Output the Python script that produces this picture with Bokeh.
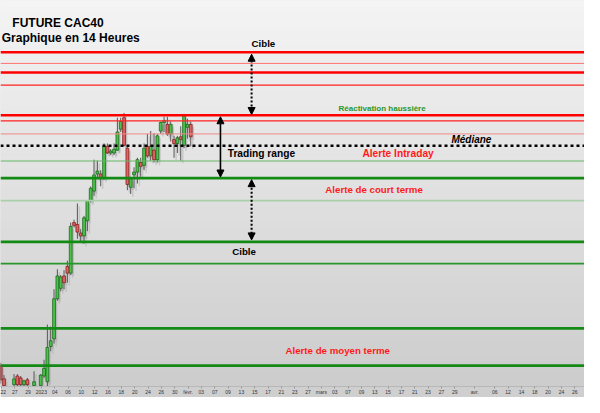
import numpy as np
from bokeh.plotting import figure
from bokeh.models import Span, Label, Arrow, NormalHead, FixedTicker, ColumnDataSource
from bokeh.embed import file_html
from bokeh.resources import INLINE

# ---------------- data ----------------
# candle slot (half trading-day index from 22 Dec 2022)
slot = [0, 1, 4, 5, 6, 7, 8, 10, 12, 13, 14, 15, 16, 17, 18, 19, 20, 21, 22, 23, 24, 25, 26, 27,
        28, 29, 30, 31, 32, 33, 34, 35, 36, 37, 38, 39, 40, 41, 42, 43, 44, 45, 46, 47, 48, 49,
        50, 51, 52, 53, 54, 55, 56, 57]
open_ = [6472.5, 6437.5, 6422.5, 6445, 6440, 6422.5, 6435, 6420, 6420, 6445, 6430, 6522.5, 6542.5,
         6647.5, 6675, 6707.5, 6732.5, 6715, 6847.5, 6842.5, 6820, 6812.5, 6852.5, 6905, 6930, 6975,
         6975, 6965, 7047.5, 7030, 7030, 7037.5, 7092.5, 7122.5, 7042.5, 6940, 6972.5, 6980, 7005,
         6997.5, 7047.5, 7022.5, 7037.5, 7012.5, 7087.5, 7110, 7105, 7080, 7065, 7055, 7072.5, 7050,
         7097.5, 7105]
high = [6480, 6447.5, 6450, 6450, 6445, 6435, 6440, 6457.5, 6450, 6487.5, 6580, 6575, 6672.5, 6725,
        6710, 6722.5, 6747.5, 6847.5, 6855, 6897.5, 6830, 6865, 6905, 6942.5, 7012.5, 7010, 6985,
        7055, 7055, 7040, 7055, 7122.5, 7122.5, 7135, 7045, 6967.5, 6992.5, 7017.5, 7017.5, 7055,
        7080, 7087.5, 7082.5, 7080, 7112.5, 7125, 7125, 7112.5, 7075, 7075, 7100, 7132.5, 7120,
        7112.5]
low = [6425, 6412.5, 6415, 6417.5, 6417.5, 6415, 6417.5, 6415, 6412.5, 6440, 6412.5, 6510, 6530,
       6642.5, 6667.5, 6672.5, 6690, 6710, 6835, 6805, 6797.5, 6792.5, 6825, 6900, 6917.5, 6962.5,
       6942.5, 6960, 7027.5, 7025, 7025, 7035, 7085, 7047.5, 6932.5, 6922.5, 6937.5, 6950, 6967.5,
       6985, 7017.5, 7010, 7005, 7005, 7080, 7085, 7075, 7060, 7017.5, 7030, 7010, 7042.5, 7067.5,
       7047.5]
close = [6435, 6420, 6437.5, 6422.5, 6422.5, 6432.5, 6422.5, 6430, 6447.5, 6465, 6520, 6537.5,
         6647.5, 6707.5, 6705, 6690, 6715, 6837.5, 6840, 6822.5, 6812.5, 6860, 6905, 6937.5, 6972.5,
         6982.5, 6965, 7047.5, 7030, 7035, 7040, 7085, 7112.5, 7050, 6947.5, 6962.5, 6980, 7012.5,
         6995, 7042.5, 7022.5, 7047.5, 7012.5, 7075, 7110, 7115, 7080, 7105, 7055, 7070, 7065,
         7127.5, 7105, 7072.5]

red_levels = [7294, 7265, 7241, 7208, 7129, 7114, 7080]
median_level = 7049
green_levels = [7009, 6964, 6905, 6797, 6740, 6570, 6472]

tick_days = [0, 2, 4, 6, 8, 10, 12, 14, 16, 18, 20, 22, 24, 26, 28, 30, 32, 34, 36, 38, 40, 42,
             44, 46, 48, 50, 52, 54, 56, 58, 60, 62, 64, 66, 68, 71, 74, 76, 78, 80, 82, 84, 86]
tick_labels = ["22", "27", "29", "2023", "04", "06", "10", "12", "16", "18", "20", "24", "26", "30",
               "févr.", "03", "07", "09", "13", "15", "17", "21", "23", "27", "mars", "03", "07",
               "09", "13", "15", "17", "21", "23", "27", "29", "avr.", "06", "12", "14", "18", "20",
               "24", "26"]

# ---------------- styles ----------------
red_widths = [2.5, 1, 2.5, 1.3, 2.5, 1.3, 1]
red_colors = ["#ff0000", "#ff7070", "#ff0000", "#ff2222", "#ff0000", "#ff2222", "#f28a8a"]
green_widths = [1.2, 2.8, 1.6, 2.8, 1.8, 2.8, 2.8]
green_colors = ["#66b866", "#138a13", "#a9cfa9", "#138a13", "#2a962a", "#138a13", "#138a13"]

X0, X1 = -0.13, 87.46
Y0, Y1 = 6417.5, 7430
FONT = "Liberation Sans"

p = figure(width=584, height=397, x_range=(X0, X1), y_range=(Y0, Y1),
           output_backend="svg", toolbar_location=None, min_border=0,
           min_border_left=0, min_border_right=0, min_border_top=0, min_border_bottom=0)
p.yaxis.visible = False
p.xgrid.visible = False
p.ygrid.visible = False
p.outline_line_color = None
p.border_fill_color = "#cfcfcf"
p.background_fill_color = "#e0e0e0"

# background vertical gradient
nb = 60
edges = np.linspace(Y0, Y1, nb + 1)
shades = np.linspace(205, 244, nb)
cols = ["#%02x%02x%02x" % (int(s), int(s), int(s)) for s in shades]
p.quad(left=X0, right=X1, bottom=edges[:-1], top=edges[1:], fill_color=cols, line_color=cols)

# levels
for lv, w, c in zip(red_levels, red_widths, red_colors):
    p.add_layout(Span(location=lv, dimension="width", line_color=c, line_width=w))
for lv, w, c in zip(green_levels, green_widths, green_colors):
    p.add_layout(Span(location=lv, dimension="width", line_color=c, line_width=w))
p.add_layout(Span(location=median_level, dimension="width", line_color="black",
                  line_width=2.6, line_dash="3 3"))

# candles
xs = np.array(slot) * 0.5 - 0.1
o = np.array(open_); h = np.array(high); l = np.array(low); c = np.array(close)
up = c >= o
src = ColumnDataSource(dict(x=xs, o=o, h=h, l=l, c=c,
                            top=np.maximum(o, c), bot=np.minimum(o, c),
                            fill=np.where(up, "#4cc24c", "#e06464"),
                            line=np.where(up, "#1d6a1d", "#8a2020")))
shadow = ColumnDataSource(dict(x=xs + 0.3, h=h - 7, l=l - 7,
                               top=np.maximum(o, c) - 7, bot=np.minimum(o, c) - 7))
p.segment(x0="x", y0="h", x1="x", y1="l", source=shadow, line_color="#a8a8a8",
          line_width=1.5, line_alpha=0.45)
p.vbar(x="x", top="top", bottom="bot", width=0.42, source=shadow, fill_color="#a8a8a8",
       line_color=None, fill_alpha=0.45)
p.segment(x0="x", y0="h", x1="x", y1="l", source=src, line_color="#555555", line_width=1)
p.vbar(x="x", top="top", bottom="bot", width=0.42, source=src, fill_color="fill",
       line_color="line", line_width=0.8)

# x axis
p.xaxis.ticker = FixedTicker(ticks=tick_days)
p.xaxis.major_label_overrides = {t: s for t, s in zip(tick_days, tick_labels)}
p.xaxis.major_label_text_font_size = "5px"
p.xaxis.major_label_text_font = FONT
p.xaxis.major_label_text_color = "#333333"
p.xaxis.major_label_standoff = 0
p.xaxis.major_tick_out = 2
p.xaxis.major_tick_in = 0
p.xaxis.minor_tick_out = 0
p.xaxis.minor_tick_in = 0
p.xaxis.axis_line_color = "#b8b8b8"
p.xaxis.major_tick_line_color = "#999999"

# arrows
def head():
    return NormalHead(size=7, fill_color="black", line_color="black")

p.add_layout(Arrow(start=head(), end=head(), x_start=37.53, y_start=7131, x_end=37.53,
                   y_end=7289, line_dash="2 2", line_width=2, line_color="black"))
p.add_layout(Arrow(start=head(), end=head(), x_start=32.86, y_start=7125, x_end=32.86,
                   y_end=6967, line_width=1.6, line_color="black"))
p.add_layout(Arrow(start=head(), end=head(), x_start=37.53, y_start=6960, x_end=37.53,
                   y_end=6802, line_dash="2 2", line_width=2, line_color="black"))

# labels
def lab(x, y, t, size, color="black", style="bold", align="center"):
    p.add_layout(Label(x=x, y=y, text=t, text_align=align, text_baseline="middle",
                       text_font=FONT, text_font_size=size, text_font_style=style,
                       text_color=color))

lab(8.5, 7370, "FUTURE CAC40", "12px")
lab(0.05, 7332, "Graphique en 14 Heures", "12px", align="left")
lab(39.3, 7318, "Cible", "9.7px")
lab(57.1, 7147, "Réactivation haussière", "8px", color="#2a962a")
lab(70.5, 7066, "Médiane", "10px", style="bold italic")
lab(39.0, 7028, "Trading range", "10.2px")
lab(59.5, 7028, "Alerte Intraday", "10.2px", color="#ff1a1a")
lab(55.9, 6935, "Alerte de court terme", "9.7px", color="#ff1a1a")
lab(36.4, 6772, "Cible", "9.7px")
lab(50.45, 6513, "Alerte de moyen terme", "9.7px", color="#ff1a1a")

open("out.html", "w").write(file_html(p, INLINE))
